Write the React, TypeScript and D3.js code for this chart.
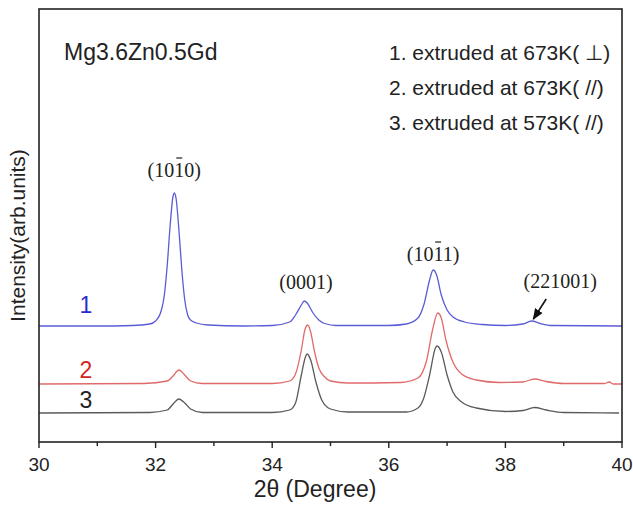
import React from 'react';
import * as d3 from 'd3';

// 2theta (deg) and intensity (arb. units)
const blueX = [30, 31, 31.6, 31.9, 32, 32.1, 32.15, 32.2, 32.25, 32.3, 32.32, 32.35, 32.4, 32.45, 32.5, 32.55, 32.6, 32.7, 32.9, 33.5, 34, 34.3, 34.4, 34.5, 34.55, 34.6, 34.7, 34.8, 34.9, 35.1, 36, 36.3, 36.5, 36.6, 36.7, 36.76, 36.82, 36.9, 37, 37.1, 37.3, 37.6, 38, 38.3, 38.45, 38.6, 38.8, 40];
const blueY = [116, 116, 116.5, 118, 121, 132, 147, 177, 217, 246, 249, 244, 212, 172, 142, 127, 122, 119, 117, 116, 116.5, 120, 127, 137, 141, 139, 129, 122, 118.5, 116.5, 116.5, 118, 124, 137, 162, 172, 167, 147, 132, 125, 120, 117.5, 116.5, 118, 121, 118.5, 116.5, 116];

const redX = [30, 31.8, 32.2, 32.3, 32.4, 32.5, 32.6, 32.8, 34, 34.3, 34.4, 34.5, 34.56, 34.61, 34.66, 34.72, 34.8, 34.9, 35, 35.3, 36.2, 36.5, 36.65, 36.75, 36.84, 36.9, 36.98, 37.1, 37.25, 37.5, 37.9, 38.3, 38.5, 38.7, 39, 39.7, 39.78, 39.85, 40];
const redY = [58, 58.5, 61, 66, 72, 67, 61, 58.5, 58.5, 61, 68, 92, 112, 117, 110, 92, 74, 65, 61, 59, 59.5, 64, 82, 112, 129, 124, 102, 80, 68, 62, 59.5, 60, 63, 60.5, 58.5, 58.5, 60, 58, 58];

const blackX = [30, 31.9, 32.2, 32.3, 32.4, 32.5, 32.6, 32.8, 34, 34.3, 34.4, 34.5, 34.57, 34.6, 34.66, 34.75, 34.85, 35, 35.3, 36.3, 36.5, 36.6, 36.7, 36.8, 36.83, 36.9, 37, 37.1, 37.25, 37.5, 38, 38.3, 38.5, 38.7, 39, 39.95];
const blackY = [29, 29.5, 32, 38, 43, 39, 33, 29.5, 29.5, 32, 39, 67, 85, 88, 82, 60, 42, 33, 30, 30, 34, 44, 67, 94, 96, 90, 67, 50, 40, 34, 30.5, 31.5, 34.5, 32, 29.5, 29];

const xTicks = [30, 32, 34, 36, 38, 40];
const xMinor = [31, 33, 35, 37, 39];

const legendLines = ['1. extruded at 673K( \u22a5)', '2. extruded at 673K( //)', '3. extruded at 573K( //)'];
const seriesNames = ['1', '2', '3'];
const seriesColors = ['#5b5bd6', '#e06a6a', '#5a5a5a'];
const nameColors = ['#2b2bcc', '#d42424', '#222222'];

// peak labels: text, index of the char with an overbar, 2theta, intensity
const peakText = ['(1010)', '(0001)', '(1011)', '(221001)'];
const peakBar = [3, -1, 3, -1];
const peakAt = [32.32, 34.58, 36.76, 38.94];
const peakLevel = [265, 153, 181, 154];

const W = 633, H = 510;
const left = 39, right = 622, top = 9, bottom = 442;

export default function App() {
  const x = d3.scaleLinear().domain([30, 40]).range([left, right]);
  const y = d3.scaleLinear().domain([0, 433]).range([bottom, top]);
  const line = d3.line<[number, number]>()
    .x(d => x(d[0]))
    .y(d => y(d[1]))
    .curve(d3.curveMonotoneX);

  const series = [
    d3.zip(blueX, blueY) as [number, number][],
    d3.zip(redX, redY) as [number, number][],
    d3.zip(blackX, blackY) as [number, number][],
  ];
  const nameLevel = [129, 64, 34];

  const sans = 'Liberation Sans, Arial, sans-serif';
  const serif = 'Liberation Serif, Times New Roman, serif';
  const pfs = 20;

  return (
    <svg width={W} height={H} style={{ position: 'absolute', left: 0, top: 0, background: '#fff' }}>
      {series.map((s, i) => (
        <path key={i} d={line(s) || ''} fill="none" stroke={seriesColors[i]} strokeWidth={1.3} />
      ))}
      <rect x={left} y={top} width={right - left} height={bottom - top} fill="none" stroke="#222" strokeWidth={1.6} />
      {xTicks.map(t => (
        <g key={t}>
          <line x1={x(t)} x2={x(t)} y1={bottom} y2={bottom + 6} stroke="#222" strokeWidth={1.4} />
          <text x={x(t)} y={bottom + 29} textAnchor="middle" fontFamily={sans} fontSize={19} fill="#222">{t}</text>
        </g>
      ))}
      {xMinor.map(t => (
        <line key={t} x1={x(t)} x2={x(t)} y1={bottom} y2={bottom + 4} stroke="#222" strokeWidth={1.4} />
      ))}
      <text x={315} y={497} textAnchor="middle" fontFamily={sans} fontSize={23} fill="#222">2θ (Degree)</text>
      <text transform={`translate(25,${(top + bottom) / 2 + 10}) rotate(-90)`} textAnchor="middle" fontFamily={sans} fontSize={21} fill="#222">Intensity(arb.units)</text>

      <text x={64} y={60} fontFamily={sans} fontSize={23} fill="#222">Mg3.6Zn0.5Gd</text>
      {legendLines.map((l, i) => (
        <text key={i} x={389} y={60 + i * 35} fontFamily={sans} fontSize={21} fill="#222">{l}</text>
      ))}

      {seriesNames.map((n, i) => (
        <text key={n} x={86} y={y(nameLevel[i])} textAnchor="middle" fontFamily={sans} fontSize={23} fill={nameColors[i]}>{n}</text>
      ))}

      {peakText.map((p, i) => {
        const cx = x(peakAt[i]);
        const cy = y(peakLevel[i]);
        // char widths for serif: parens 0.333em, digits 0.5em
        const total = (2 * 0.333 + (p.length - 2) * 0.5) * pfs;
        const bx = cx - total / 2 + (0.333 + (peakBar[i] - 1) * 0.5) * pfs;
        return (
          <g key={p}>
            <text x={cx} y={cy} textAnchor="middle" fontFamily={serif} fontSize={pfs} fill="#222">{p}</text>
            {peakBar[i] >= 0 && (
              <line x1={bx + 2} x2={bx + 0.5 * pfs - 2} y1={cy - 19} y2={cy - 19} stroke="#222" strokeWidth={1.2} />
            )}
          </g>
        );
      })}
      <defs>
        <marker id="ah" viewBox="0 0 10 10" refX="9" refY="5" markerWidth="7" markerHeight="7" orient="auto">
          <path d="M0,1 L10,5 L0,9 Z" fill="#111" />
        </marker>
      </defs>
      <line x1={x(38.7)} y1={y(143)} x2={x(38.48)} y2={y(123)} stroke="#111" strokeWidth={1.6} markerEnd="url(#ah)" />
    </svg>
  );
}
